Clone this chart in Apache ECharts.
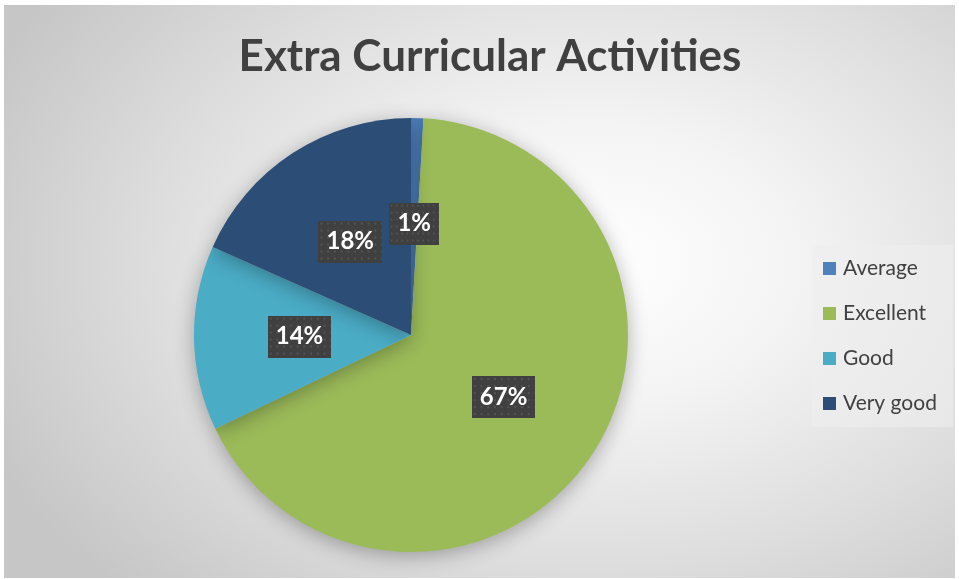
<!DOCTYPE html>
<html>
<head>
<meta charset="utf-8">
<script src="https://cdn.jsdelivr.net/npm/echarts@6/dist/echarts.min.js"></script>
<style>
html,body{margin:0;padding:0;background:#ffffff;}
#frame{position:absolute;left:4px;top:5px;width:951px;height:573px;
background:radial-gradient(ellipse 70% 80% at 62% 45%, #ffffff 0%, #f4f4f4 30%, #dedede 65%, #c6c6c6 100%);}
#chart{position:absolute;left:0;top:0;width:959px;height:579px;}
</style>
</head>
<body>
<div id="frame"></div>
<div id="chart"></div>
<script>
const titleText = 'Extra Curricular Activities';
const categories = ['Average', 'Excellent', 'Good', 'Very good'];
const values = [1, 73, 15, 20];
const colors = ['#4f81bd', '#9bbb59', '#4bacc6', '#2c4d75'];

// dotted label background
const pat = document.createElement('canvas');
pat.width = 66; pat.height = 42;
const pc = pat.getContext('2d');
pc.fillStyle = '#404040';
pc.fillRect(0, 0, 66, 42);
pc.fillStyle = '#545454';
for (let y = 2; y < 42; y += 7) {
  for (let x = 2; x < 66; x += 7) pc.fillRect(x, y, 2, 2);
}

const chart = echarts.init(document.getElementById('chart'), null, {renderer: 'canvas'});
chart.setOption({
  backgroundColor: 'transparent',
  animation: false,
  graphic: [{
    type: 'text', x: 490, y: 57,
    style: {text: titleText, fill: '#404040', align: 'center', verticalAlign: 'middle',
      font: 'bold 44px Lato, "Open Sans", sans-serif'}
  }],
  legend: {
    orient: 'vertical', left: 812, top: 245,
    padding: [13, 16, 13, 11],
    itemWidth: 13, itemHeight: 13, itemGap: 24,
    backgroundColor: 'rgba(238,238,238,0.6)',
    icon: 'rect',
    textStyle: {fontSize: 21, color: '#404040', fontFamily: 'Lato, "Open Sans", sans-serif', padding: [0, 0, 0, 2]},
    data: categories
  },
  series: [{
    type: 'pie',
    center: [411, 335],
    radius: 217,
    startAngle: 90,
    clockwise: true,
    avoidLabelOverlap: false,
    data: categories.map((c, i) => ({name: c, value: values[i], itemStyle: {color: colors[i]}})),
    itemStyle: {shadowBlur: 20, shadowColor: 'rgba(0,0,0,0.3)', shadowOffsetY: 4},
    label: {
      show: true, position: 'inside',
      formatter: p => Math.round(p.percent) + '%',
      color: '#ffffff', fontSize: 24, fontWeight: 'bold',
      fontFamily: 'Lato, "Open Sans", sans-serif',
      lineHeight: 26,
      padding: [8, 8],
      backgroundColor: {image: pat},
      shadowBlur: 7, shadowOffsetX: 4, shadowOffsetY: 4, shadowColor: 'rgba(0,0,0,0.5)'
    },
    labelLine: {show: false},
    emphasis: {disabled: true}
  }]
});
</script>
</body>
</html>
